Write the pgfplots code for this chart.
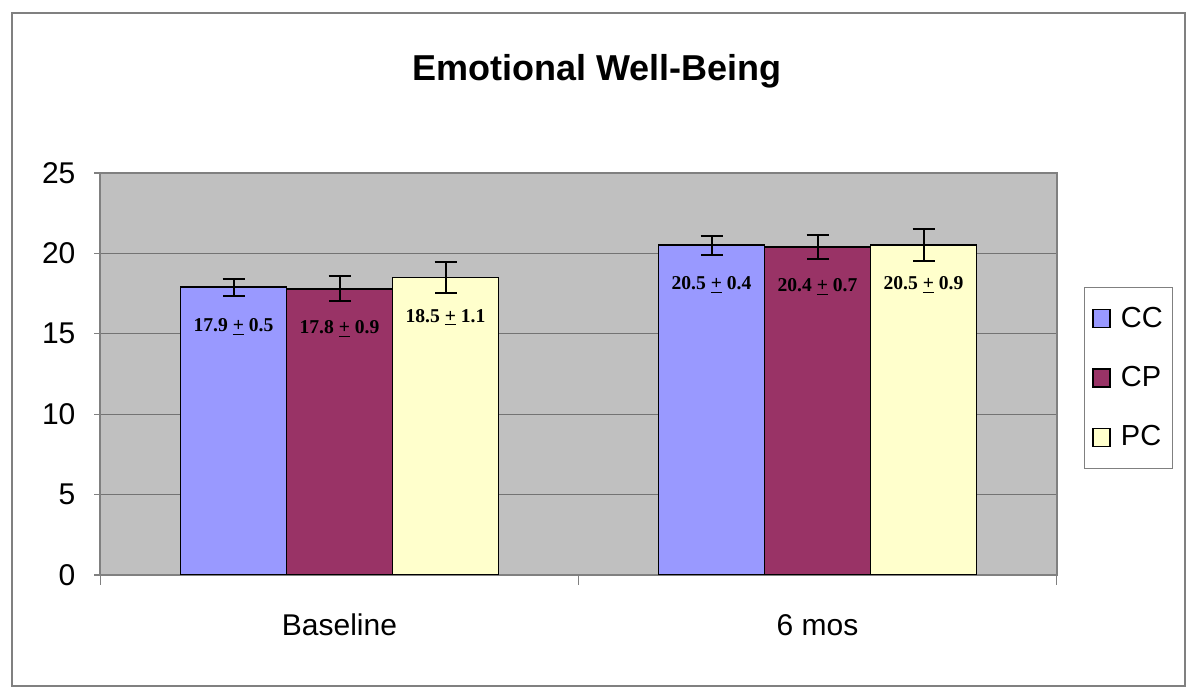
\documentclass[border=0pt]{standalone}
\usepackage{pgfplots}
\pgfplotsset{compat=1.18}
\usepackage{fontspec}
\setmainfont{Liberation Sans}
\newfontfamily\serifb{Liberation Serif}
\definecolor{cc}{HTML}{9999FF}
\definecolor{cp}{HTML}{993366}
\definecolor{pc}{HTML}{FFFFCC}
\definecolor{bgc}{HTML}{C0C0C0}
\definecolor{frame}{HTML}{808080}
\begin{document}
\begin{tikzpicture}
\useasboundingbox (0,0) rectangle (600pt,350pt);
\draw[frame, line width=0.8pt] (6pt,7pt) rectangle (592.5pt,343.5pt);
\begin{axis}[
  at={(50.25pt,62.5pt)}, anchor=south west,
  scale only axis, width=478pt, height=201pt,
  xmin=-0.5, xmax=1.5, ymin=0, ymax=25,
  ytick={0,5,...,25},
  xtick={0,1}, xticklabels={Baseline,6 mos},
  minor xtick={-0.5,0.5,1.5},
  xtick pos=lower, ytick pos=left,
  tick align=outside,
  major tick length=3pt, minor tick length=5pt,
  major x tick style={draw=none},
  minor x tick style={draw=frame, line width=0.6pt},
  major y tick style={draw=frame, line width=0.6pt},
  axis background/.style={fill=bgc},
  axis line style={draw=frame, line width=1pt},
  ymajorgrids, major grid style={black!55, line width=0.6pt},
  /pgf/number format/assume math mode=true,
  tick label style={font=\fontsize{15}{18}\selectfont},
  xticklabel style={yshift=-13pt},
  yticklabel style={xshift=-6pt},
  ybar=0pt, bar width=53pt,
  visualization depends on={\thisrow{sd}\as\sdv},
  nodes near coords={\serifb\bfseries\pgfmathprintnumber[fixed,fixed zerofill,precision=1,assume math mode=true]{\pgfplotspointmeta}\ \underline{+}\ \pgfmathprintnumber[fixed,fixed zerofill,precision=1,assume math mode=true]{\sdv}},
  every node near coord/.append style={anchor=center, yshift=-20pt, font=\fontsize{9.8}{11}\selectfont\serifb\bfseries, text=black},
  error bars/error bar style={line width=1pt, black},
  error bars/error mark options={rotate=90, line width=1pt, mark size=5.5pt, black},
  legend style={at={(1,0.49)}, anchor=west, xshift=13.5pt, draw=frame, fill=white,
    font=\fontsize{14.5}{16}\selectfont, row sep=14pt, inner xsep=3pt, inner ysep=8pt,
    cells={anchor=west}},
  legend image code/.code={\draw[#1, draw=black, line width=0.7pt] (1.5pt,-4.5pt) rectangle (10pt,4.5pt); \path[draw=none, fill=none] (0pt,0pt) -- (13.5pt,0pt);},
]
\addplot[fill=cc, draw=black, line width=0.9pt, error bars/.cd, y dir=both, y explicit]
  table[x=x, y=y, y error=e] {
x y e sd
0 17.9 0.53 0.5
1 20.5 0.60 0.4
};
\addplot[fill=cp, draw=black, line width=0.9pt, error bars/.cd, y dir=both, y explicit]
  table[x=x, y=y, y error=e] {
x y e sd
0 17.8 0.78 0.9
1 20.4 0.75 0.7
};
\addplot[fill=pc, draw=black, line width=0.9pt, error bars/.cd, y dir=both, y explicit]
  table[x=x, y=y, y error=e] {
x y e sd
0 18.5 0.95 1.1
1 20.5 1.00 0.9
};
\legend{CC,CP,PC}
\end{axis}
\node[font=\fontsize{18}{21}\selectfont\bfseries] at (298.5pt,314.5pt) {Emotional Well-Being};
\end{tikzpicture}
\end{document}
